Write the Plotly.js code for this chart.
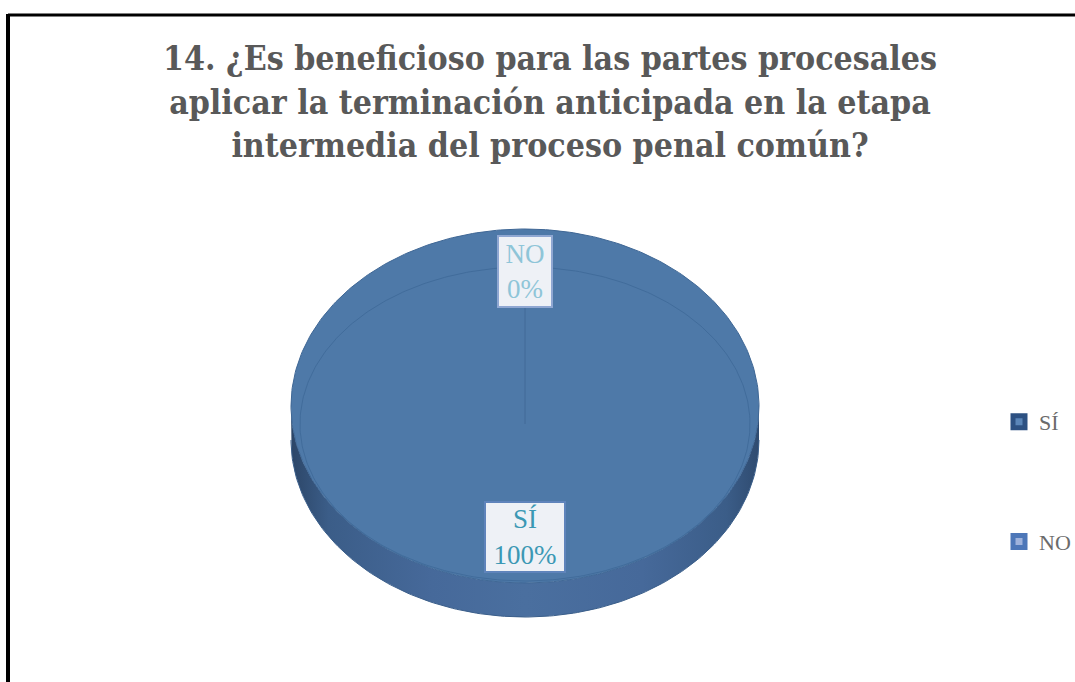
<!DOCTYPE html>
<html><head><meta charset="utf-8">
<script src="https://cdn.plot.ly/plotly-3.0.1.min.js"></script>
<style>html,body{margin:0;padding:0;background:#fff}#chart{width:1075px;height:682px}</style>
</head><body><div id="chart"></div>
<script>
// ---- data ----
const categories = ['SÍ', 'NO'];
const values = [100, 0];
const titleLines = ['14. ¿Es beneficioso para las partes procesales',
                    'aplicar la terminación anticipada en la etapa',
                    'intermedia del proceso penal común?'];

// ---- style / layout constants ----
const W = 1075, H = 682;
const OUT = {cx: 525, cy: 406, rx: 234, ry: 177};   // outer rim of the top face
const IN  = {cx: 525, cy: 424, rx: 225, ry: 157};   // inner top face
const DEPTH = 34;
const faceColors = ['#4e79a8', '#5a85b8'];
const legendFill = ['#5b86b8', '#9fb3dc'];
const legendLine = ['#2d5182', '#4d77b8'];
const labelColors = ['#3b98b4', '#8ec5d8'];
const labelBorders = ['#5f84bb', '#8fa7d2'];
const labelR = [0.72, 0.97];
const serif = 'Liberation Serif, DejaVu Serif, serif';
const titleFont = 'DejaVu Serif Condensed, DejaVu Serif, Liberation Serif, serif';

function pt(e, deg, r, dy) {
  r = (r === undefined) ? 1 : r; dy = dy || 0;
  const t = deg * Math.PI / 180;
  return [e.cx + r * e.rx * Math.sin(t), e.cy - r * e.ry * Math.cos(t) + dy];
}
function arc(e, a0, a1, dy) {
  const n = Math.max(2, Math.ceil(Math.abs(a1 - a0)) + 1);
  const xs = [], ys = [];
  for (let i = 0; i < n; i++) {
    const p = pt(e, a0 + (a1 - a0) * i / (n - 1), 1, dy || 0);
    xs.push(p[0]); ys.push(p[1]);
  }
  return [xs, ys];
}

const total = values.reduce((a, b) => a + b, 0);
const angles = [];
let cum = 0;
values.forEach(v => { const a0 = cum / total * 360; cum += v; angles.push([a0, cum / total * 360]); });

const traces = [];
// side walls
angles.forEach(([a0, a1], i) => {
  const s0 = Math.max(a0, 90), s1 = Math.min(a1, 270);
  if (s1 <= s0) return;
  const top = arc(OUT, s0, s1, 0), bot = arc(OUT, s1, s0, DEPTH);
  traces.push({
    type: 'scatter', mode: 'lines', x: top[0].concat(bot[0]), y: top[1].concat(bot[1]),
    fill: 'toself', fillcolor: '#44699a',
    fillgradient: {type: 'horizontal', colorscale: [[0, '#2c4668'], [0.08, '#3b5d88'], [0.3, '#46699a'], [0.5, '#4a6f9f'], [0.75, '#46699a'], [0.93, '#3b5d88'], [1, '#2f4b70']]},
    line: {width: 0}, hoverinfo: 'skip', showlegend: false
  });
});
// bottom edge outline of side
(function () {
  const b = arc(OUT, 90, 270, DEPTH);
  traces.push({type: 'scatter', mode: 'lines', x: b[0], y: b[1], line: {color: '#3a5e8a', width: 1}, hoverinfo: 'skip', showlegend: false});
})();
// top faces
angles.forEach(([a0, a1], i) => {
  if (a1 - a0 <= 0) return;
  const a = arc(OUT, a0, a1, 0);
  traces.push({
    type: 'scatter', mode: 'lines', x: [OUT.cx].concat(a[0], [OUT.cx]), y: [OUT.cy].concat(a[1], [OUT.cy]),
    fill: 'toself', fillcolor: faceColors[i], line: {width: 0}, hoverinfo: 'skip', showlegend: false
  });
});
// outlines
(function () {
  const o = arc(OUT, 0, 360, 0);
  traces.push({type: 'scatter', mode: 'lines', x: o[0], y: o[1], line: {color: '#3f6795', width: 1}, hoverinfo: 'skip', showlegend: false});
  const n = arc(IN, 0, 360, 0);
  traces.push({type: 'scatter', mode: 'lines', x: n[0], y: n[1], line: {color: '#416c9b', width: 1}, hoverinfo: 'skip', showlegend: false});
  angles.forEach(([a0]) => {
    const p = pt(IN, a0);
    traces.push({type: 'scatter', mode: 'lines', x: [IN.cx, p[0]], y: [IN.cy, p[1]], line: {color: 'rgba(70,110,155,0.7)', width: 1}, hoverinfo: 'skip', showlegend: false});
  });
})();
// legend entries
categories.forEach((c, i) => {
  traces.push({
    type: 'scatter', mode: 'markers', x: [null], y: [null], name: c, legendgroup: 'g' + i,
    marker: {symbol: 'square', size: 12, color: legendFill[i], line: {color: legendLine[i], width: 5}},
    hoverinfo: 'skip', showlegend: true
  });
});

// data labels
const annotations = angles.map(([a0, a1], i) => {
  const p = pt(IN, (a0 + a1) / 2, labelR[i]);
  const pct = Math.round(values[i] / total * 100);
  return {
    x: p[0], y: p[1], xref: 'x', yref: 'y', showarrow: false,
    text: categories[i] + '<br>' + pct + '%',
    font: {family: serif, size: 27, color: labelColors[i]},
    bgcolor: '#eef1f6', bordercolor: labelBorders[i], borderwidth: 2, borderpad: 1,
    width: i === 0 ? 76 : 50, height: i === 0 ? 66 : 67, align: 'center'
  };
});

const layout = {
  width: W, height: H,
  margin: {l: 0, r: 0, t: 0, b: 0, autoexpand: false},
  paper_bgcolor: '#ffffff', plot_bgcolor: '#ffffff',
  xaxis: {range: [0, W], visible: false, fixedrange: true},
  yaxis: {range: [H, 0], visible: false, fixedrange: true},
  title: {
    text: '<b>' + titleLines.join('<br>') + '</b>',
    font: {family: titleFont, size: 33.6, color: '#595959', stretch: 'condensed'},
    x: 550 / W, xanchor: 'center', xref: 'container', y: 1 - 70 / H, yanchor: 'top', yref: 'container'
  },
  showlegend: true,
  legend: {
    x: 999 / W, y: 1 - 401 / H, xanchor: 'left', yanchor: 'top',
    tracegroupgap: 88, bgcolor: 'rgba(0,0,0,0)',
    font: {family: serif, size: 22, color: '#6b6b6b'}
  },
  shapes: [
    {type: 'line', xref: 'x', yref: 'y', x0: 8, x1: W + 20, y0: 15, y1: 15, line: {color: '#000', width: 3}},
    {type: 'line', xref: 'x', yref: 'y', x0: 8, x1: 8, y0: 14, y1: H + 20, line: {color: '#000', width: 4}}
  ],
  annotations: annotations
};

Plotly.newPlot('chart', traces, layout, {displayModeBar: false, staticPlot: true});
</script>
</body></html>
